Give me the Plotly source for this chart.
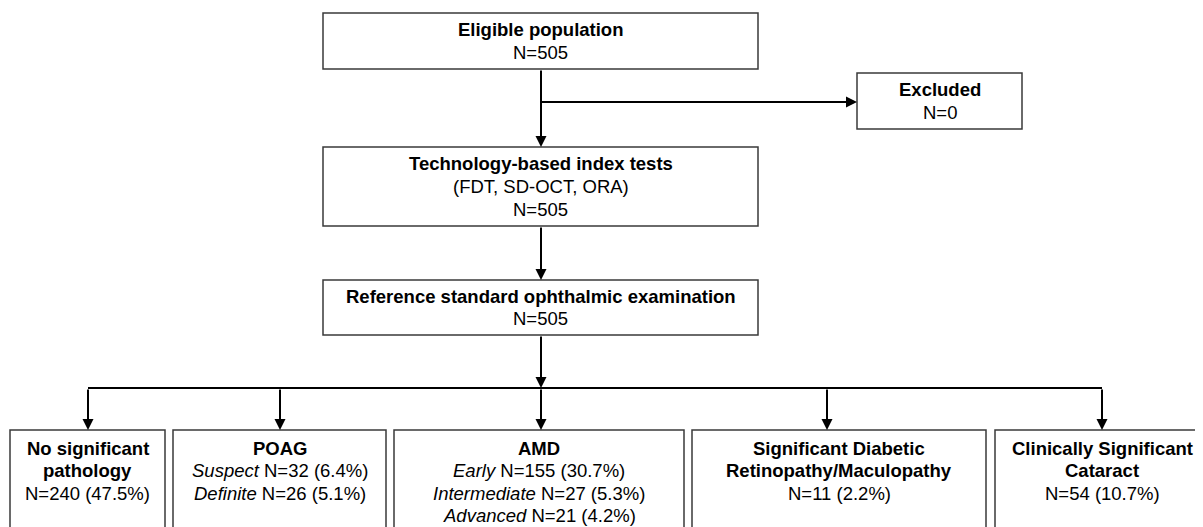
import plotly.graph_objects as go

# ---------------- data ----------------
stage_titles = ["Eligible population", "Technology-based index tests",
                "Reference standard ophthalmic examination"]
stage_subtitles = ["", "(FDT, SD-OCT, ORA)", ""]
stage_n = [505, 505, 505]
excluded_label = "Excluded"
excluded_n = 0

outcome_titles = [["No significant", "pathology"], ["POAG"], ["AMD"],
                  ["Significant Diabetic", "Retinopathy/Maculopathy"],
                  ["Clinically Significant", "Cataract"]]
outcome_sub_labels = [[None], ["Suspect", "Definite"],
                      ["Early", "Intermediate", "Advanced"], [None], [None]]
outcome_n = [[240], [32, 26], [155, 27, 21], [11], [54]]
outcome_pct = [[47.5], [6.4, 5.1], [30.7, 5.3, 4.2], [2.2], [10.7]]

# ---------------- layout constants ----------------
W, H = 1203, 527
OFF = 8  # page body margin offset
FONT = "Liberation Sans, Arial, sans-serif"
FS = 18.5
LS = 22.6
TXT = "#000000"
BORDER = "#3a3a3a"

stage_boxes = [(323, 758, 13, 69), (323, 758, 147, 226), (323, 758, 280, 335)]
excl_box = (857, 1022, 73, 129)
out_boxes = [(10, 165), (173, 386), (394, 684), (692, 986), (995, 1209)]
out_top, out_bot = 430, 560
out_arrow_x = [88, 280, 541, 827, 1102]
cx = 541
branch_y = 388
excl_y = 102

fig = go.Figure()
shapes = []
annots = []


def box(x0, x1, y0, y1):
    shapes.append(dict(type="rect", xref="x", yref="y", x0=x0, x1=x1, y0=y0, y1=y1,
                       line=dict(color=BORDER, width=1.5), fillcolor="white", layer="below"))


def text_lines(xc, y_first, lines):
    for i, t in enumerate(lines):
        annots.append(dict(x=xc, y=y_first + i * LS, xref="x", yref="y", text=t,
                           showarrow=False, xanchor="center", yanchor="middle",
                           font=dict(family=FONT, size=FS, color=TXT)))


def arrow(x0, y0, x1, y1):
    annots.append(dict(x=x1, y=y1, ax=x0, ay=y0, xref="x", yref="y", axref="x", ayref="y",
                       text="", showarrow=True, arrowhead=2, arrowsize=1.1, arrowwidth=2,
                       arrowcolor="black", standoff=0, startstandoff=0))


def line(x0, y0, x1, y1):
    shapes.append(dict(type="line", xref="x", yref="y", x0=x0, y0=y0, x1=x1, y1=y1,
                       line=dict(color="black", width=2)))


# stage boxes
for (x0, x1, y0, y1), title, sub, n in zip(stage_boxes, stage_titles, stage_subtitles, stage_n):
    box(x0, x1, y0, y1)
    lines = ["<b>%s</b>" % title]
    if sub:
        lines.append(sub)
    lines.append("N=%d" % n)
    height = (len(lines) - 1) * LS
    text_lines((x0 + x1) / 2, (y0 + y1) / 2 - height / 2, lines)

# excluded box
x0, x1, y0, y1 = excl_box
box(x0, x1, y0, y1)
text_lines((x0 + x1) / 2, (y0 + y1) / 2 - LS / 2, ["<b>%s</b>" % excluded_label, "N=%d" % excluded_n])

# outcome boxes
for (x0, x1), xa, titles, subs, ns, pcts in zip(out_boxes, out_arrow_x, outcome_titles,
                                                outcome_sub_labels, outcome_n, outcome_pct):
    box(x0, x1, out_top, out_bot)
    lines = ["<b>%s</b>" % t for t in titles]
    for s, n, p in zip(subs, ns, pcts):
        if s:
            lines.append("<i>%s</i> N=%d (%.1f%%)" % (s, n, p))
        else:
            lines.append("N=%d (%.1f%%)" % (n, p))
    text_lines((x0 + x1) / 2, 448, lines)

# connectors
arrow(cx, stage_boxes[0][3], cx, stage_boxes[1][2])
line(cx, excl_y, excl_box[0] - 6, excl_y)
arrow(cx, excl_y, excl_box[0], excl_y)
arrow(cx, stage_boxes[1][3], cx, stage_boxes[2][2])
arrow(cx, stage_boxes[2][3], cx, branch_y)
line(out_arrow_x[0], branch_y, out_arrow_x[-1], branch_y)
for xa in out_arrow_x:
    arrow(xa, branch_y, xa, out_top)

fig.update_layout(
    width=W, height=H, margin=dict(l=0, r=0, t=0, b=0),
    paper_bgcolor="white", plot_bgcolor="white",
    xaxis=dict(range=[OFF, W + OFF], visible=False, fixedrange=True),
    yaxis=dict(range=[H + OFF, OFF], visible=False, fixedrange=True),
    shapes=shapes, annotations=annots, showlegend=False,
)

fig.write_html("out.html")
